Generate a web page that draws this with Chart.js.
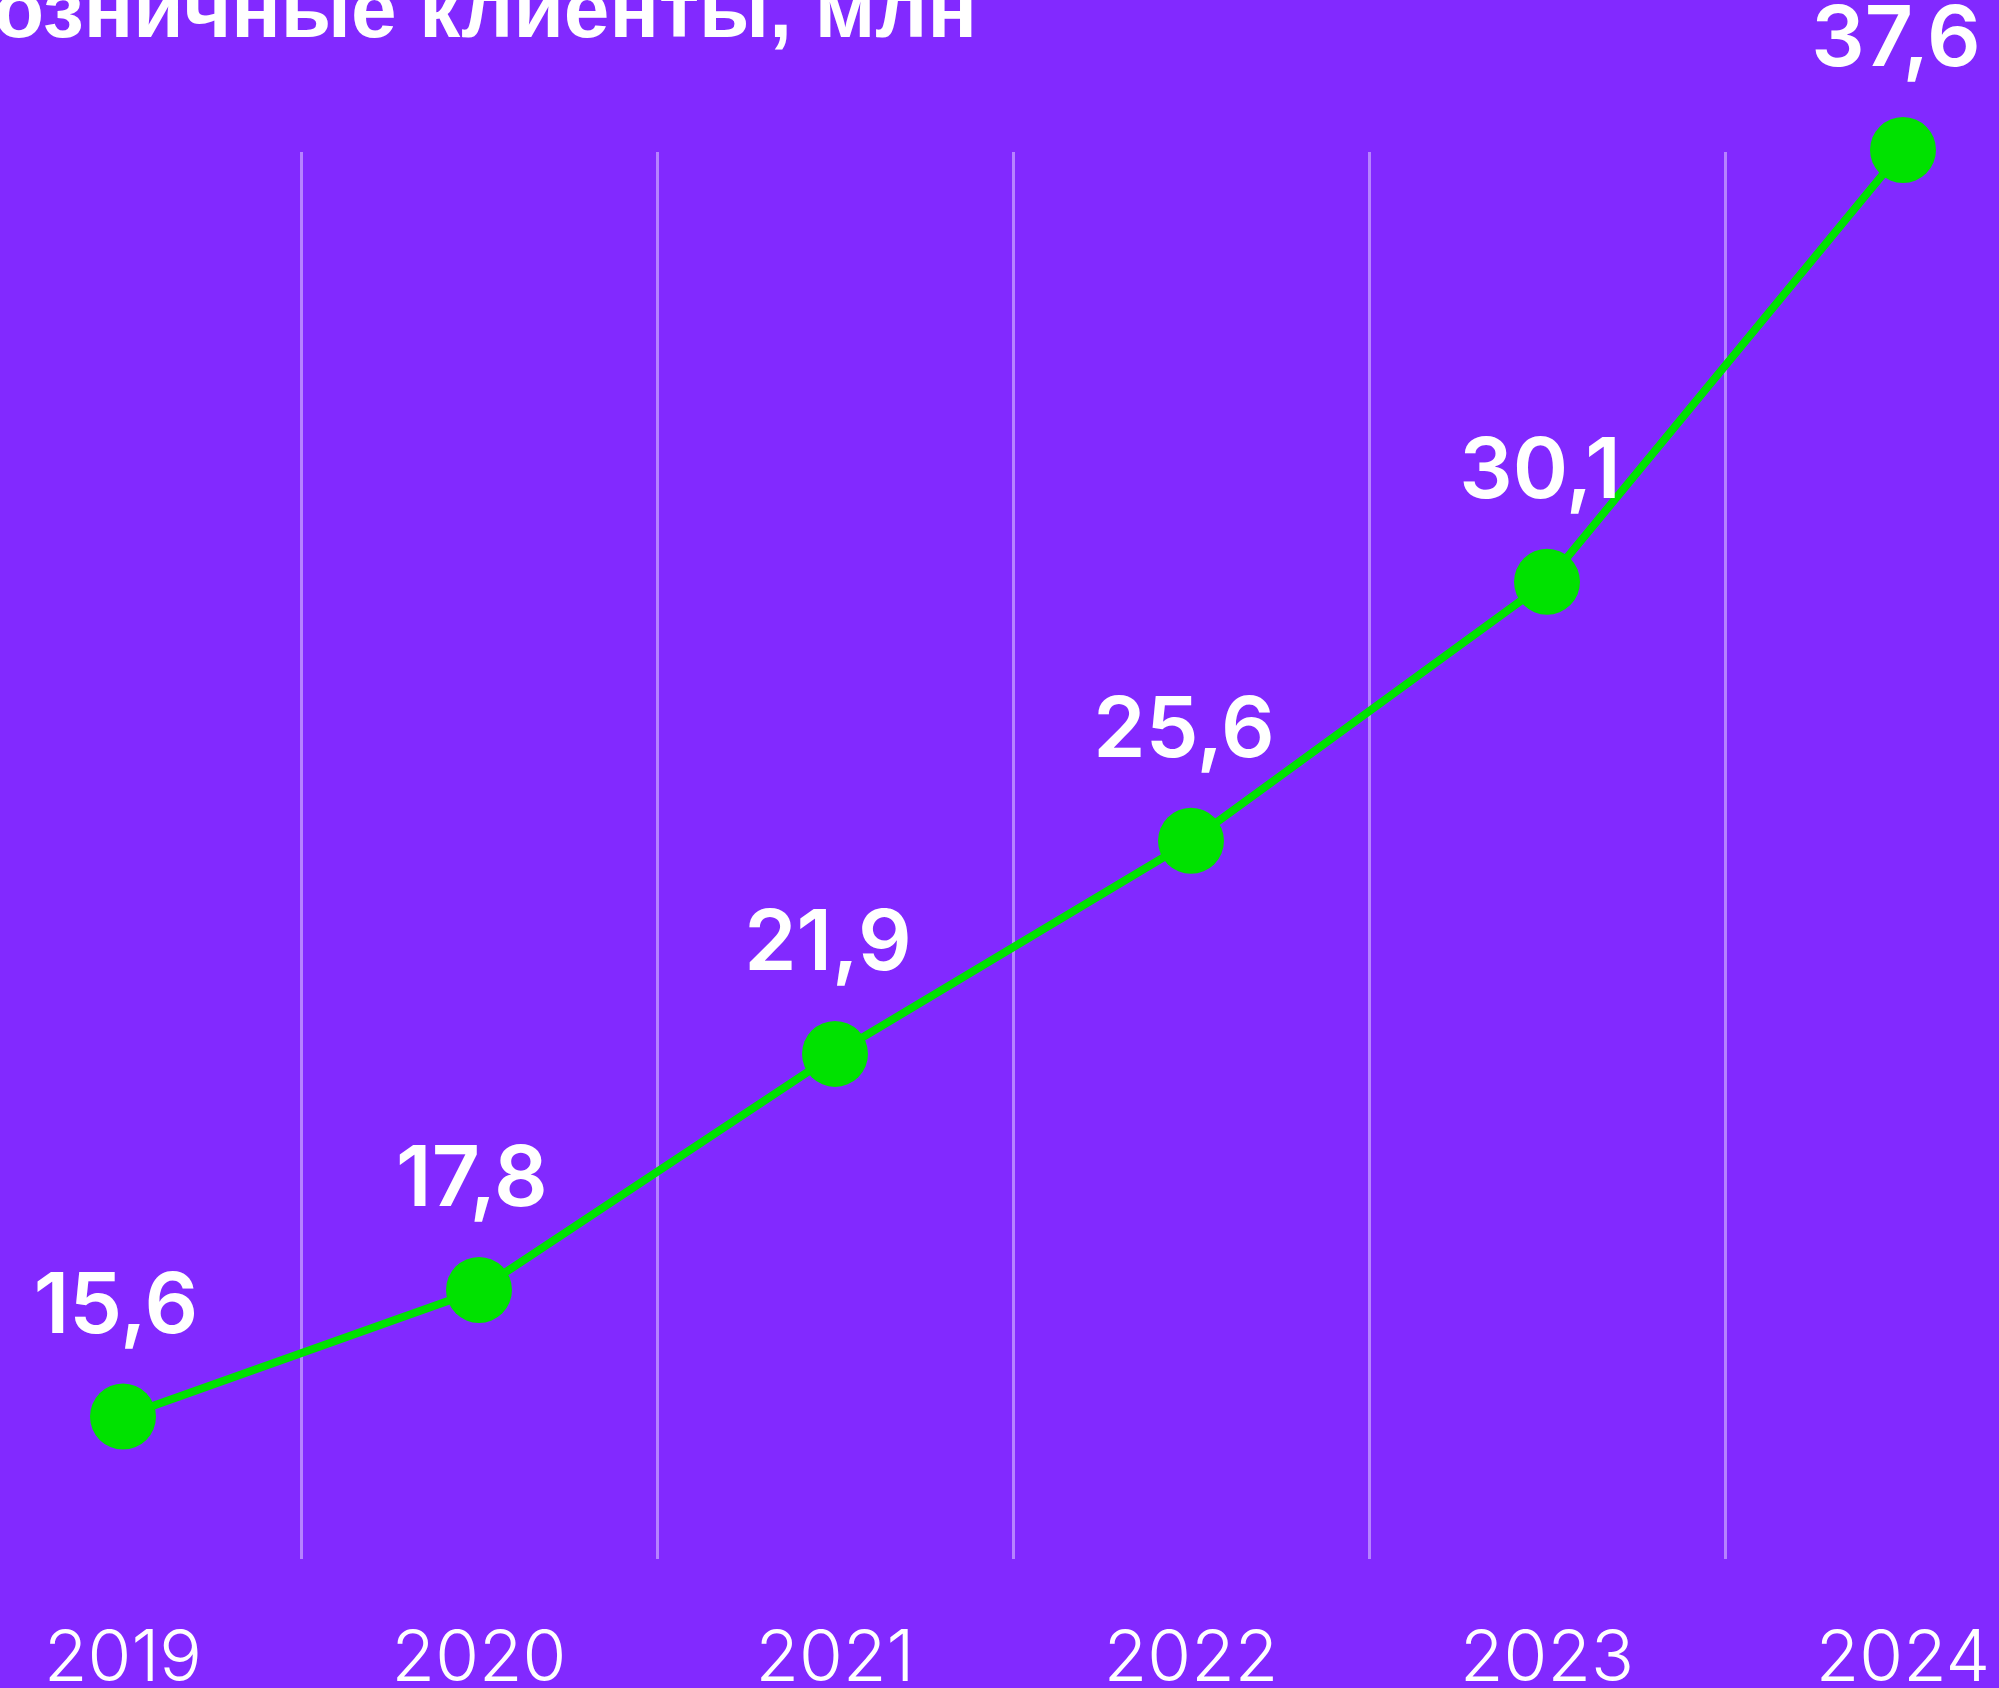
<!DOCTYPE html>
<html>
<head>
<meta charset="utf-8">
<script src="https://cdn.jsdelivr.net/npm/chart.js@4"></script>
<style>
  html, body { margin: 0; padding: 0; background: #8229FF; overflow: hidden; width: 1999px; height: 1688px; }
  #myChart { position: absolute; left: -55px; top: 0; }
  #title {
    position: absolute; right: 1022px; top: -32px;
    font: bold 82px/1 "Liberation Sans", Arial, sans-serif;
    color: #fff; white-space: nowrap; text-align: right;
  }
</style>
</head>
<body>
<div id="title">Розничные клиенты, млн</div>
<canvas id="myChart" width="2136" height="1760"></canvas>
<script>
const years = ['2019', '2020', '2021', '2022', '2023', '2024'];
const clients = [15.6, 17.8, 21.9, 25.6, 30.1, 37.6];

// value labels above the points, "15,6" style
const valueLabels = {
    id: 'valueLabels',
    afterDatasetsDraw(chart) {
        const ctx = chart.ctx;
        const meta = chart.getDatasetMeta(0);
        ctx.save();
        ctx.fillStyle = '#ffffff';
        ctx.font = '600 84px Inter';
        ctx.textAlign = 'center';
        ctx.textBaseline = 'alphabetic';
        meta.data.forEach((pt, i) => {
            const txt = clients[i].toFixed(1).replace('.', ',');
            ctx.fillText(txt, pt.x - 7, pt.y - 84);
        });
        ctx.restore();
    }
};

const ctx = document.getElementById('myChart').getContext('2d');
const myChart = new Chart(ctx, {
    type: 'line',
    data: {
        labels: years,
        datasets: [{
            data: clients,
            borderColor: '#00E200',
            borderWidth: 8,
            pointBackgroundColor: '#00E200',
            pointBorderWidth: 0,
            pointRadius: 33,
            pointHoverRadius: 33,
            tension: 0,
            clip: false
        }]
    },
    options: {
        responsive: false,
        devicePixelRatio: 1,
        animation: false,
        layout: { padding: { top: 152 }, autoPadding: false },
        plugins: {
            legend: { display: false },
            tooltip: { enabled: false },
            title: { display: false }
        },
        scales: {
            x: {
                offset: true,
                grid: {
                    offset: true,
                    color: 'rgba(255,255,255,0.42)',
                    lineWidth: 3,
                    drawTicks: false
                },
                border: { display: false },
                ticks: {
                    color: '#ffffff',
                    padding: 58,
                    maxRotation: 0,
                    font: { family: 'Inter', size: 71, weight: 300, lineHeight: 1.2 }
                }
            },
            y: {
                display: false,
                min: 13.13,
                max: 37.565
            }
        }
    },
    plugins: [valueLabels]
});
</script>
</body>
</html>
